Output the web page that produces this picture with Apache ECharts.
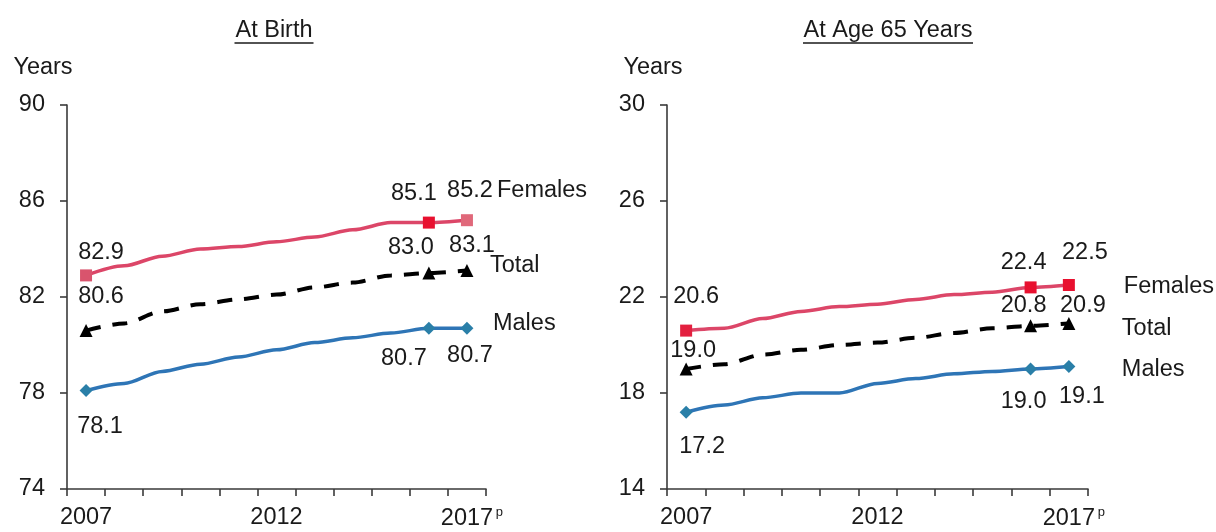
<!DOCTYPE html>
<html>
<head>
<meta charset="utf-8">
<script src="https://cdn.jsdelivr.net/npm/echarts@6/dist/echarts.min.js"></script>
<style>
  html, body { margin: 0; padding: 0; background: #fff; }
  #chart { width: 1216px; height: 532px; }
</style>
</head>
<body>
<div id="chart"></div>
<script>
// ---------- data ----------
const years = ['2007','2008','2009','2010','2011','2012','2013','2014','2015','2016','2017'];
const birthFemales = [82.9, 83.3, 83.7, 84.0, 84.1, 84.3, 84.5, 84.8, 85.1, 85.1, 85.2];
const birthTotal   = [80.6, 80.9, 81.4, 81.7, 81.9, 82.1, 82.4, 82.6, 82.9, 83.0, 83.1];
const birthMales   = [78.1, 78.4, 78.9, 79.2, 79.5, 79.8, 80.1, 80.3, 80.5, 80.7, 80.7];
const age65Females = [20.6, 20.7, 21.1, 21.4, 21.6, 21.7, 21.9, 22.1, 22.2, 22.4, 22.5];
const age65Total   = [19.0, 19.2, 19.6, 19.8, 20.0, 20.1, 20.3, 20.5, 20.7, 20.8, 20.9];
const age65Males   = [17.2, 17.5, 17.8, 18.0, 18.0, 18.4, 18.6, 18.8, 18.9, 19.0, 19.1];
const birthTicks = [74, 78, 82, 86, 90];
const age65Ticks = [14, 18, 22, 26, 30];
const titles = ['At Birth', 'At Age 65 Years'];
const markedYears = ['2007', '2016', '2017'];

// ---------- styling / layout config ----------
const FONT = "'Liberation Sans', Arial, sans-serif";
const FS = 23.5;
const TXT = '#1a1a1a';
const AX = '#3a3a3a';
const FEM = '#DC4668';
const MAL = '#2E75B6';
const TOT = '#000000';

// label offsets (px from marker centre) for the marked points, per panel/series
const labelOffsets = {
  bF: [[15,-23],[-15,-29],[3,-30]],
  bT: [[15,-34],[-18,-25],[5,-25]],
  bM: [[14,36],[-25,30],[3,27]],
  aF: [[10,-34],[-7,-25],[16,-32]],
  aT: [[7,-18],[-7,-20],[14,-18]],
  aM: [[16,34],[-7,33],[13,30]]
};
const endOffsets = {
  bF: [30,-30], bT: [23,-5], bM: [26,-5],
  aF: [55,2], aT: [53,5], aM: [53,3]
};
const femMarkerColors = { b: ['#D9546D','#E8102F','#E0687A'], a: ['#E3203F','#E8102F','#E8102F'] };

function buildData(values, key, markerColors) {
  const offs = labelOffsets[key];
  return values.map((v, i) => {
    const k = markedYears.indexOf(years[i]);
    if (k < 0) return { value: v, symbol: 'none' };
    const item = {
      value: v,
      label: {
        show: true, position: 'inside', offset: offs[k],
        color: TXT, fontSize: FS, fontFamily: FONT,
        formatter: p => Number(p.value).toFixed(1)
      }
    };
    if (markerColors) item.itemStyle = { color: markerColors[k] };
    return item;
  });
}

function lineSeries(name, values, key, idx, color, symbol, size, dashed, markerColors) {
  return {
    type: 'line', name: name, xAxisIndex: idx, yAxisIndex: idx,
    data: buildData(values, key, markerColors),
    smooth: 0.3, smoothMonotone: 'x',
    showAllSymbol: true, symbol: symbol, symbolSize: size,
    lineStyle: { color: color, width: dashed ? 4 : 3.5, type: dashed ? [15, 12] : 'solid', cap: 'butt' },
    itemStyle: { color: color },
    endLabel: {
      show: true, formatter: '{a}', distance: 0, align: 'left', verticalAlign: 'middle',
      offset: endOffsets[key], color: TXT, fontSize: FS, fontFamily: FONT
    },
    emphasis: { disabled: true },
    z: dashed ? 3 : 2
  };
}

function xAxisCfg(idx) {
  return {
    type: 'category', gridIndex: idx, data: years, boundaryGap: true,
    axisLine: { lineStyle: { color: AX, width: 1.6 } },
    axisTick: { show: true, interval: 0, length: 7, lineStyle: { color: AX, width: 1.6 } },
    axisLabel: {
      interval: 4, margin: 17, color: TXT, fontSize: FS, fontFamily: FONT,
      formatter: v => v === '2017' ? '{pad|}' + v + '{sup|p}' : v,
      rich: {
        pad: { width: 10 },
        sup: { fontSize: 13, fontFamily: FONT, color: TXT, width: 10, align: 'right', verticalAlign: 'top', padding: [0, 0, 13, 0] }
      }
    },
    splitLine: { show: false }
  };
}

function yAxisCfg(idx, ticks, shift) {
  return {
    type: 'value', gridIndex: idx, min: ticks[0], max: ticks[ticks.length - 1],
    name: 'Years', nameLocation: 'end', nameGap: 37,
    nameTextStyle: { color: TXT, fontSize: FS, fontFamily: FONT, align: 'center', verticalAlign: 'middle', padding: [0, shift, 0, 0] },
    axisLine: { show: true, lineStyle: { color: AX, width: 1.6 } },
    axisTick: { show: true, length: 7, customValues: ticks, lineStyle: { color: AX, width: 1.6 } },
    axisLabel: { margin: 22, color: TXT, fontSize: FS, fontFamily: FONT, customValues: ticks },
    splitLine: { show: false }
  };
}

const chart = echarts.init(document.getElementById('chart'), null, { renderer: 'canvas' });

const titleCenters = [274, 888];
const titleWidths = [79, 170];

const option = {
  backgroundColor: '#ffffff',
  animation: false,
  graphic: titles.map((t, i) => ({
    type: 'group', silent: true,
    children: [
      { type: 'text', x: titleCenters[i], y: 31,
        style: { text: t, align: 'center', verticalAlign: 'middle', fill: TXT, fontSize: FS, fontFamily: FONT } },
      { type: 'line',
        shape: { x1: titleCenters[i] - titleWidths[i] / 2, y1: 43, x2: titleCenters[i] + titleWidths[i] / 2, y2: 43 },
        style: { stroke: TXT, lineWidth: 1.5 } }
    ]
  })),
  grid: [
    { left: 67, right: 1216 - 486, top: 105, bottom: 532 - 489 },
    { left: 667, right: 1216 - 1088, top: 105, bottom: 532 - 489 }
  ],
  xAxis: [xAxisCfg(0), xAxisCfg(1)],
  yAxis: [yAxisCfg(0, birthTicks, 48), yAxisCfg(1, age65Ticks, 28)],
  series: [
    lineSeries('Females', birthFemales, 'bF', 0, FEM, 'rect', 12, false, femMarkerColors.b),
    lineSeries('Total', birthTotal, 'bT', 0, TOT, 'triangle', 13, true),
    lineSeries('Males', birthMales, 'bM', 0, MAL, 'diamond', 13, false, ['#2A7FA8','#2A7FA8','#2A7FA8']),
    lineSeries('Females', age65Females, 'aF', 1, FEM, 'rect', 12, false, femMarkerColors.a),
    lineSeries('Total', age65Total, 'aT', 1, TOT, 'triangle', 13, true),
    lineSeries('Males', age65Males, 'aM', 1, MAL, 'diamond', 13, false, ['#2A7FA8','#2A7FA8','#2A7FA8'])
  ]
};
chart.setOption(option);
</script>
</body>
</html>
